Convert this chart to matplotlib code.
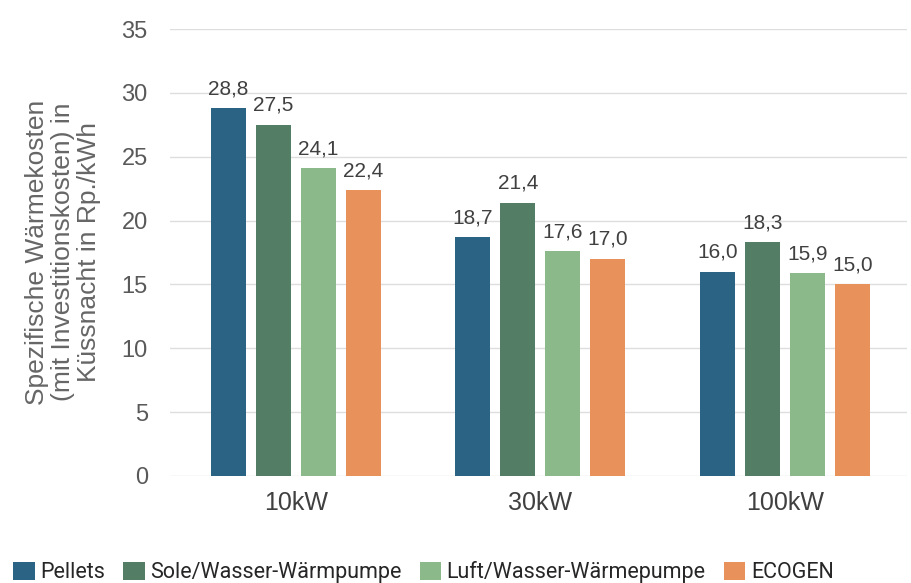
import matplotlib
matplotlib.use("Agg")
import matplotlib.pyplot as plt
from matplotlib.patches import Patch
import numpy as np

plt.rcParams['font.family'] = ['Liberation Sans', 'DejaVu Sans']

categories = ["10kW", "30kW", "100kW"]
series_names = ["Pellets", "Sole/Wasser-Wärmpumpe", "Luft/Wasser-Wärmepumpe", "ECOGEN"]
pellets = [28.8, 18.7, 16.0]
sole = [27.5, 21.4, 18.3]
luft = [24.1, 17.6, 15.9]
ecogen = [22.4, 17.0, 15.0]
colors = ["#2b6384", "#537d65", "#8cb98a", "#e8915a"]
yticks = [0, 5, 10, 15, 20, 25, 30, 35]

fig = plt.figure(figsize=(9.12, 5.83), dpi=100)
ax = fig.add_axes([170/912, 1-476/583, (907-170)/912, (476-29)/583])

x = np.arange(len(categories))
width = 0.143
step = 0.184
all_series = [pellets, sole, luft, ecogen]
for i, (vals, col) in enumerate(zip(all_series, colors)):
    pos = x + (i - 1.5) * step
    bars = ax.bar(pos, vals, width=width, color=col, zorder=3)
    for b, v in zip(bars, vals):
        ax.annotate(f"{v:.1f}".replace(".", ","), (b.get_x() + b.get_width()/2, v),
                    xytext=(0, 10), textcoords="offset points", ha="center", va="baseline",
                    fontsize=15, color="#404040")

ax.set_ylim(0, 35)
ax.set_xlim(-0.514, 2.5)
ax.set_yticks(yticks)
ax.set_yticklabels([str(t) for t in yticks])
ax.set_xticks(x)
ax.set_xticklabels(categories)
ax.tick_params(axis='both', length=0)
ax.tick_params(axis='y', pad=16, labelsize=17, labelcolor="#595959")
ax.tick_params(axis='x', pad=11, labelsize=18, labelcolor="#404040")
ax.grid(axis='y', color="#dedede", linewidth=1, zorder=0)
for s in ax.spines.values():
    s.set_visible(False)

fig.text(63/912, 1-252/583,
         "Spezifische Wärmekosten\n(mit Investitionskosten) in\nKüssnacht in Rp./kWh",
         rotation=90, ha="center", va="center", fontsize=19, color="#666666",
         linespacing=1.08)

handles = [Patch(facecolor=c, edgecolor='none') for c in colors]
leg = fig.legend(handles, series_names, loc="lower left", bbox_to_anchor=(13/912, 0.0),
                 ncol=4, frameon=False, handlelength=1.0, handleheight=0.9,
                 handletextpad=0.25, columnspacing=0.85, borderaxespad=0.0, borderpad=0.0,
                 prop={'family': ['Roboto', 'DejaVu Sans'], 'size': 15.5})
for t in leg.get_texts():
    t.set_color("#262626")

fig.savefig("out.png", dpi=100)
